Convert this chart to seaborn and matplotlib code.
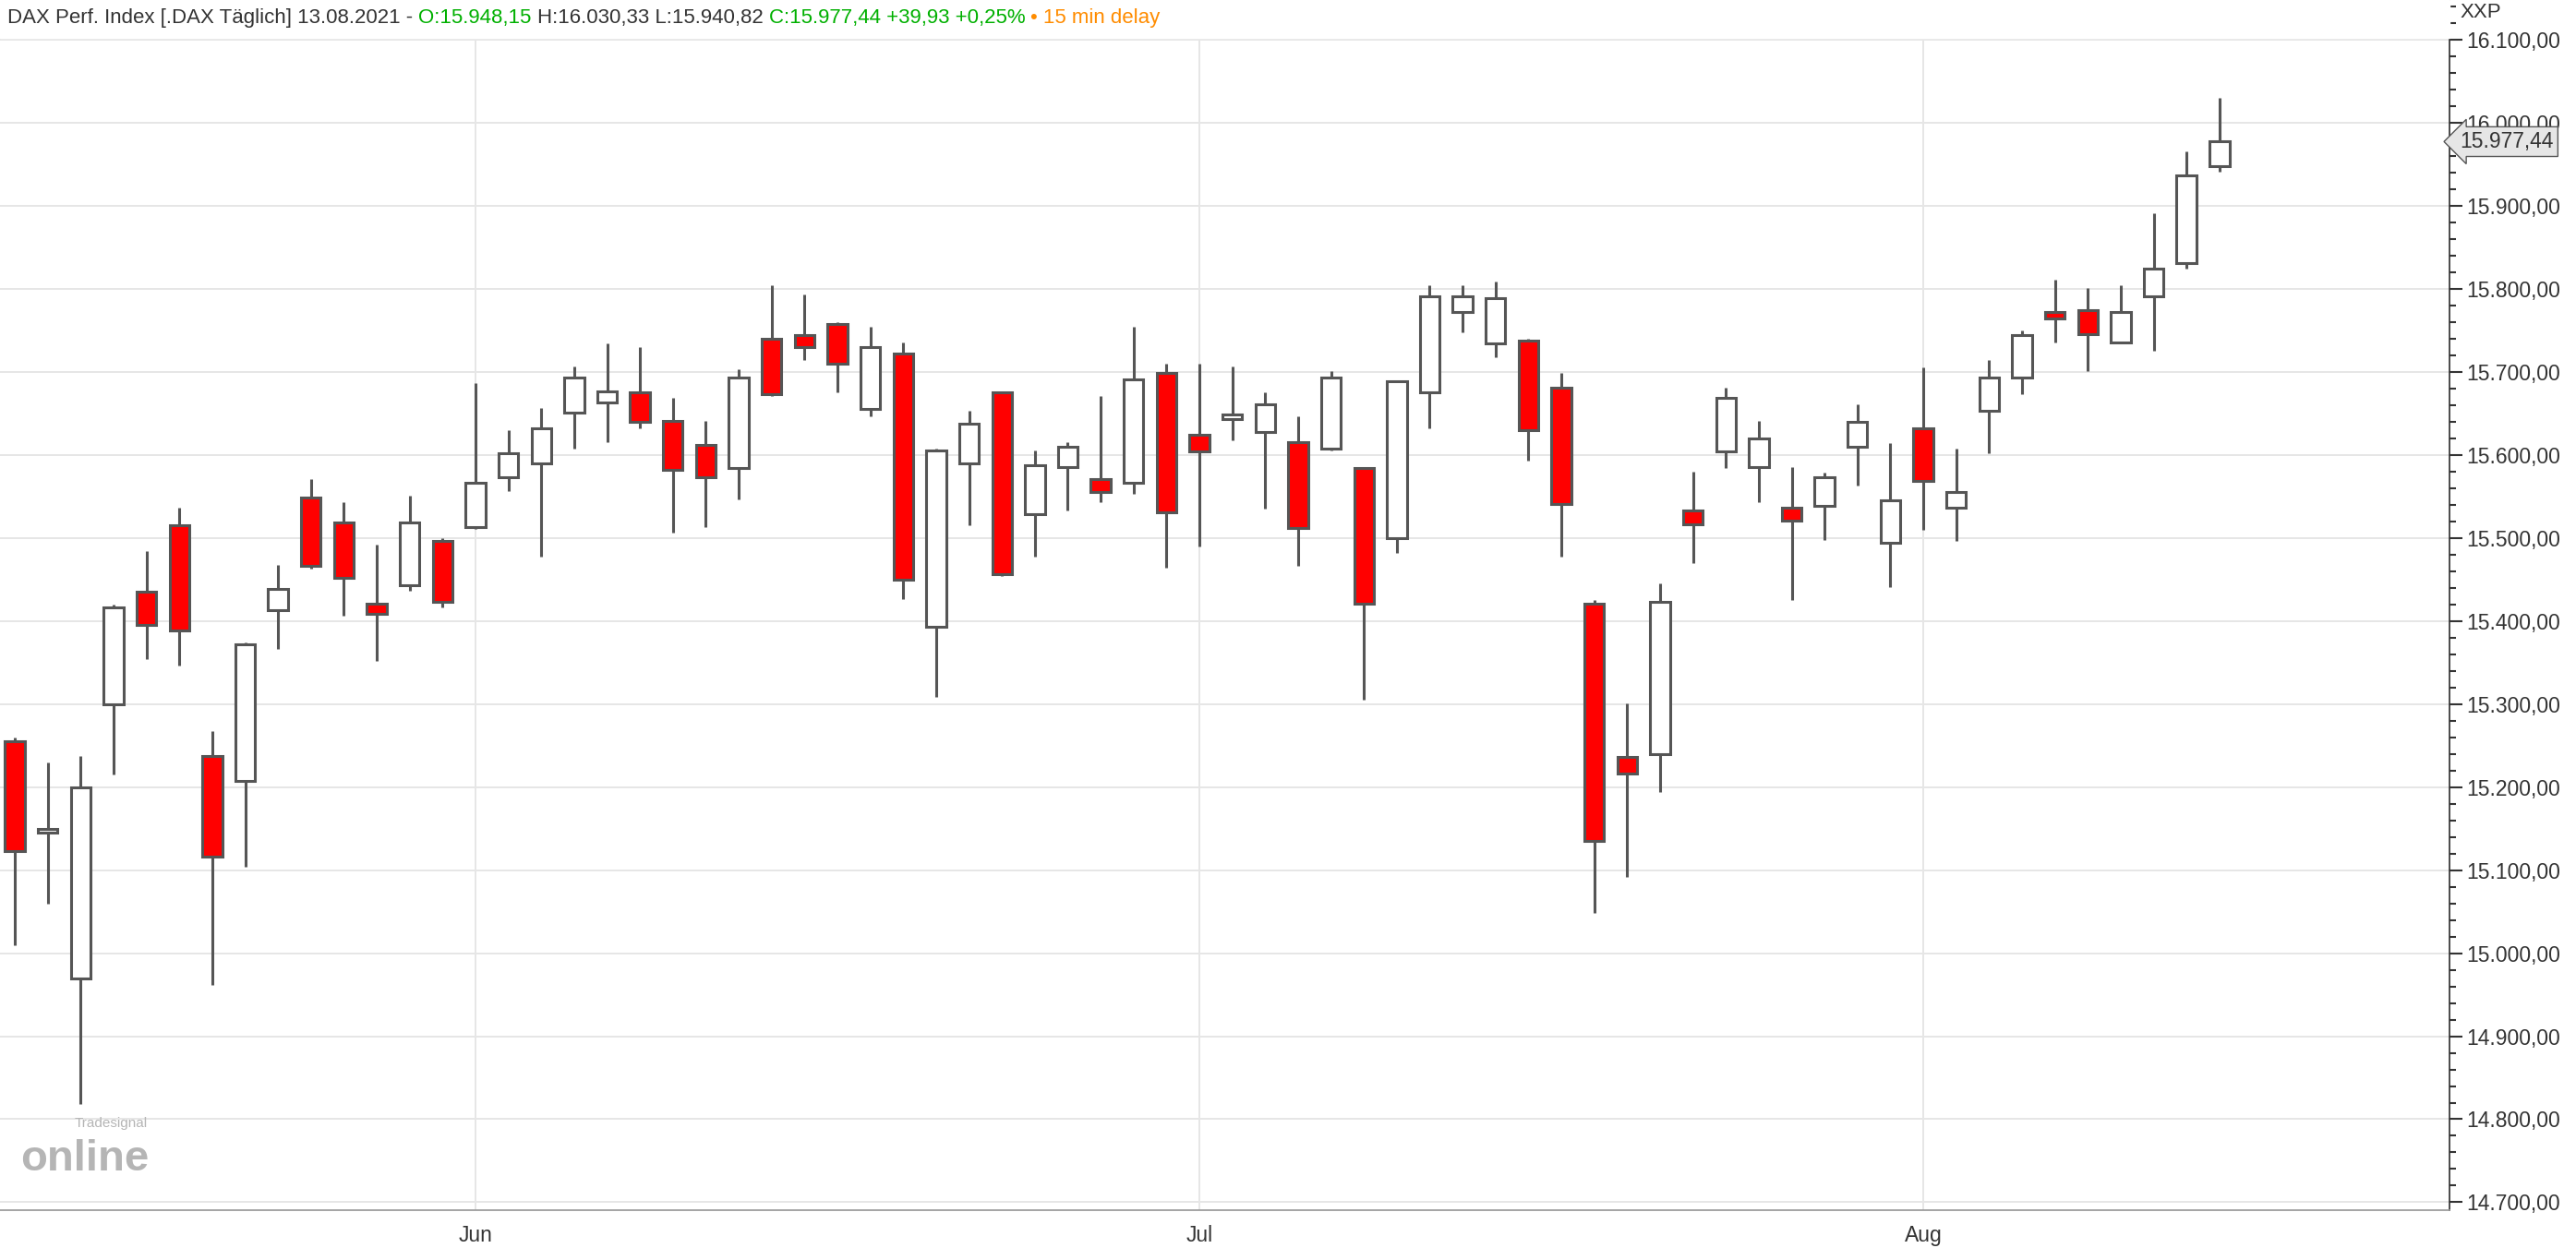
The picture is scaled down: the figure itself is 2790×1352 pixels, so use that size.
import matplotlib
matplotlib.use("Agg")
import matplotlib.pyplot as plt
import numpy as np
import seaborn as sns
from matplotlib.ticker import MultipleLocator, FuncFormatter

sns.set_theme(style="white")
plt.rcParams["font.family"] = ["Liberation Sans", "DejaVu Sans"]

# Daily OHLC, DAX, 12.05.2021 - 13.08.2021
OPEN = [15255, 15145, 14970, 15300, 15435, 15515, 15238, 15208, 15413, 15549,
        15519, 15421, 15443, 15497, 15513, 15573, 15590, 15651, 15663, 15675,
        15641, 15612, 15584, 15740, 15744, 15758, 15655, 15722, 15393, 15590,
        15675, 15529, 15586, 15571, 15567, 15699, 15624, 15643, 15628, 15616,
        15608, 15584, 15500, 15675, 15772, 15734, 15738, 15681, 15421, 15236,
        15240, 15533, 15604, 15586, 15537, 15539, 15610, 15494, 15632, 15537,
        15653, 15693, 15772, 15775, 15736, 15791, 15831, 15948.15]
HIGH = [15260, 15230, 15238, 15420, 15484, 15537, 15267, 15374, 15468, 15571,
        15543, 15492, 15551, 15500, 15687, 15630, 15657, 15707, 15734, 15730,
        15669, 15641, 15703, 15805, 15793, 15760, 15754, 15736, 15608, 15653,
        15677, 15606, 15616, 15671, 15754, 15710, 15710, 15707, 15675, 15647,
        15701, 15586, 15690, 15805, 15805, 15809, 15740, 15699, 15425, 15301,
        15445, 15580, 15681, 15641, 15586, 15579, 15661, 15614, 15705, 15608,
        15714, 15750, 15811, 15801, 15805, 15891, 15966, 16030.33]
LOW = [15010, 15060, 14818, 15215, 15354, 15346, 14962, 15104, 15366, 15463,
       15407, 15352, 15437, 15417, 15511, 15557, 15478, 15608, 15616, 15632,
       15506, 15513, 15547, 15671, 15714, 15675, 15647, 15427, 15309, 15515,
       15454, 15478, 15533, 15543, 15553, 15464, 15490, 15618, 15535, 15466,
       15606, 15305, 15482, 15632, 15748, 15718, 15593, 15478, 15049, 15092,
       15194, 15470, 15584, 15543, 15425, 15498, 15563, 15441, 15510, 15496,
       15602, 15673, 15736, 15701, 15734, 15726, 15825, 15940.82]
CLOSE = [15123, 15150, 15200, 15417, 15395, 15389, 15116, 15372, 15439, 15466,
         15452, 15409, 15519, 15423, 15567, 15602, 15632, 15693, 15677, 15640,
         15582, 15573, 15693, 15673, 15730, 15710, 15730, 15450, 15606, 15638,
         15456, 15588, 15610, 15555, 15691, 15531, 15604, 15649, 15661, 15512,
         15693, 15421, 15689, 15791, 15791, 15789, 15630, 15541, 15135, 15216,
         15423, 15516, 15669, 15620, 15521, 15573, 15640, 15545, 15569, 15555,
         15693, 15744, 15764, 15746, 15772, 15824, 15937, 15977.44]
MONTH_IDX = [14, 36, 58]
MONTH_LABELS = ["Jun", "Jul", "Aug"]

EDGE = "#555555"
fig = plt.figure(figsize=(27.9, 13.52), dpi=100)
ax = fig.add_axes([0.0, 0.03, 0.951, 0.97])

x = np.arange(len(OPEN))
o, h, l, c = map(np.array, (OPEN, HIGH, LOW, CLOSE))
ax.vlines(x, l, h, color=EDGE, lw=2.2, zorder=2)
up = c >= o
colors = np.where(up, "white", "#ff0000")
ax.bar(x, np.maximum(np.abs(c - o), 2), bottom=np.minimum(o, c), width=0.6,
       color=colors, edgecolor=EDGE, linewidth=2.2, zorder=3)

ax.set_xlim(-0.45, 74.0)
ax.set_ylim(14690, 16148)
ax.yaxis.tick_right()
ax.yaxis.set_major_locator(MultipleLocator(100))
ax.yaxis.set_minor_locator(MultipleLocator(20))
fmt = lambda v, p: f"{v:,.2f}".replace(",", "X").replace(".", ",").replace("X", ".")
ax.yaxis.set_major_formatter(FuncFormatter(fmt))
ax.set_xticks(MONTH_IDX)
ax.set_xticklabels(MONTH_LABELS)
ax.tick_params(axis="both", labelsize=16.5, colors="#333333")
ax.tick_params(axis="y", which="major", length=10, width=1.5, direction="out", pad=3)
ax.tick_params(axis="y", which="minor", length=5, width=1.5, direction="out", color="#333333")
ax.tick_params(axis="x", length=8, width=1.2)
ax.grid(True, which="major", color="#e6e6e6", lw=1.4, zorder=0)
for s in ["top", "left"]:
    ax.spines[s].set_visible(False)
ax.spines["right"].set_color("#333333")
ax.spines["bottom"].set_color("#999999")

# header
fig.patches.append(plt.Rectangle((0, 0.97), 0.951, 0.03, transform=fig.transFigure,
                                 color="white", zorder=5))
parts = [("DAX Perf. Index [.DAX Täglich] 13.08.2021 - ", "#333333"),
         ("O:15.948,15 ", "#00b000"), ("H:16.030,33 L:15.940,82 ", "#333333"),
         ("C:15.977,44 +39,93 +0,25% ", "#00b000"), ("• 15 min delay", "#ff8c00")]
xpos = 8
for txt, col in parts:
    t = fig.text(xpos / 2790, 1 - 20 / 1352, txt, color=col, fontsize=16,
                 va="center", ha="left", zorder=6)
    fig.canvas.draw()
    xpos += t.get_window_extent().width
fig.text(0.955, 0.99, "XXP", fontsize=16, color="#333333", va="center")

# last price tag
ax.annotate("15.977,44", xy=(1.0, CLOSE[-1]), xycoords=("axes fraction", "data"),
            xytext=(8, 0), textcoords="offset points", fontsize=16.5, color="#333333",
            va="center", ha="left", zorder=10,
            bbox=dict(boxstyle="larrow,pad=0.2", fc="#e6e6e6", ec="#555555"),
            annotation_clip=False)

# logo
fig.text(0.008, 0.062, "online", fontsize=34, fontweight="bold", color="#b5b5b5")
fig.text(0.029, 0.097, "Tradesignal", fontsize=11, color="#b5b5b5")

fig.savefig("out.png", dpi=100)
